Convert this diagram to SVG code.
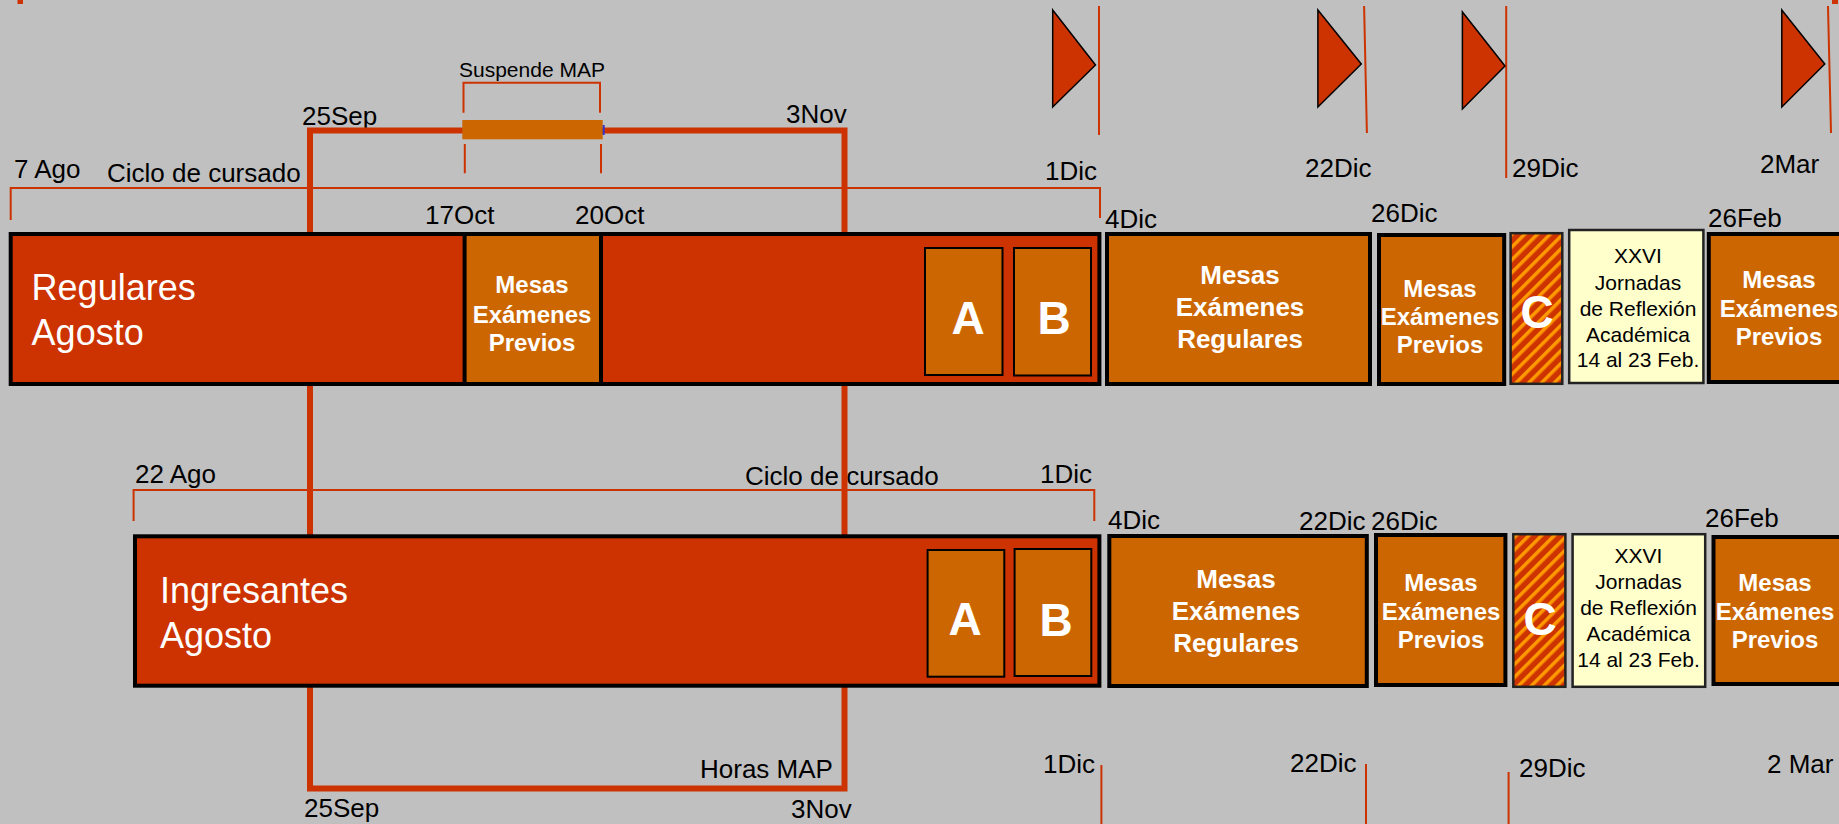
<svg xmlns="http://www.w3.org/2000/svg" width="1839" height="824" viewBox="0 0 1839 824">
<defs>
<pattern id="hatch" patternUnits="userSpaceOnUse" width="9" height="9" patternTransform="rotate(45)">
<rect width="9" height="9" fill="#CC3300"/>
<rect x="0" y="0" width="3.5" height="9" fill="#FF9900"/>
</pattern>
<style>
.lbl{font-family:"Liberation Sans",Arial,Helvetica,sans-serif;font-size:26px;fill:#000}
.sm{font-size:21px}
.big{font-family:"Liberation Sans",Arial,Helvetica,sans-serif;font-size:36px;fill:#fff}
.mp{font-family:"Liberation Sans",Arial,Helvetica,sans-serif;font-size:24px;font-weight:bold;fill:#fff;text-anchor:middle}
.mr{font-family:"Liberation Sans",Arial,Helvetica,sans-serif;font-size:26px;font-weight:bold;fill:#fff;text-anchor:middle}
.ab{font-family:"Liberation Sans",Arial,Helvetica,sans-serif;font-size:46px;font-weight:bold;fill:#fff;text-anchor:middle}
.jr{font-family:"Liberation Sans",Arial,Helvetica,sans-serif;font-size:21px;fill:#000;text-anchor:middle}
.thin{stroke:#CC3300;stroke-width:2;fill:none}
.map{stroke:#CC3300;stroke-width:6;fill:none}
.tri{fill:#CC3300;stroke:#000;stroke-width:1.5}
.main{fill:#CC3300;stroke:#000;stroke-width:4}
.ex{fill:#CC6600;stroke:#000;stroke-width:4}
.sub{fill:#CC6600;stroke:#000;stroke-width:2}
.hb{fill:url(#hatch);stroke:#222;stroke-width:2.5}
.jb{fill:#FFFFCC;stroke:#222;stroke-width:2.5}
</style>
</defs>
<rect width="1839" height="824" fill="#C0C0C0"/>

<g id="labels">
<text class="lbl" x="14" y="178">7 Ago</text>
<text class="lbl" x="107" y="182">Ciclo de cursado</text>
<text class="lbl" x="302" y="125">25Sep</text>
<text class="lbl sm" x="459" y="77">Suspende MAP</text>
<text class="lbl" x="786" y="123">3Nov</text>
<text class="lbl" x="425" y="224">17Oct</text>
<text class="lbl" x="575" y="224">20Oct</text>
<text class="lbl" x="1045" y="180">1Dic</text>
<text class="lbl" x="1105" y="228">4Dic</text>
<text class="lbl" x="1305" y="177">22Dic</text>
<text class="lbl" x="1512" y="177">29Dic</text>
<text class="lbl" x="1760" y="173">2Mar</text>
<text class="lbl" x="1371" y="222">26Dic</text>
<text class="lbl" x="1708" y="227">26Feb</text>
<text class="lbl" x="135" y="483">22 Ago</text>
<text class="lbl" x="745" y="485">Ciclo de cursado</text>
<text class="lbl" x="1040" y="483">1Dic</text>
<text class="lbl" x="1108" y="529">4Dic</text>
<text class="lbl" x="1299" y="530">22Dic</text>
<text class="lbl" x="1371" y="530">26Dic</text>
<text class="lbl" x="1705" y="527">26Feb</text>
<text class="lbl" x="700" y="778">Horas MAP</text>
<text class="lbl" x="1043" y="773">1Dic</text>
<text class="lbl" x="1290" y="772">22Dic</text>
<text class="lbl" x="1519" y="777">29Dic</text>
<text class="lbl" x="1767" y="773">2 Mar</text>
<text class="lbl" x="304" y="817">25Sep</text>
<text class="lbl" x="791" y="818">3Nov</text>
</g>

<g id="connectors">
<path class="map" d="M310,788.5 V130.5 H844.5 V788.5 Z"/>
<path class="thin" d="M10.7,220 V188 H1100 V218"/>
<path class="thin" d="M133.6,521 V490 H1094.3 V521"/>
<path class="thin" d="M463.5,112.7 V82.7 H600 V112.7"/>
<path class="thin" d="M464.8,144 V173.3 M601,144 V173.3"/>
<path class="thin" d="M1099,6 V135 M1364.1,6 L1366.9,133 M1506.2,6 V178 M1828,6 L1831,133"/>
<path class="thin" d="M1101.4,765 V824 M1366,764 V824 M1508.6,772 V824"/>
<rect x="17.5" y="0" width="5.5" height="4" fill="#CC3300"/>
<rect x="1832" y="0" width="6" height="4" fill="#CC3300"/>
</g>

<g id="suspende-map">
<rect x="462.3" y="120" width="140.4" height="19.3" fill="#CC6600"/>
<line x1="603.7" y1="125" x2="603.7" y2="135" stroke="#3333CC" stroke-width="2"/>
</g>

<g id="markers">
<polygon class="tri" points="1052.7,10 1095.5,65 1052.7,107"/>
<polygon class="tri" points="1317.9,10 1361.3,64 1317.9,107"/>
<polygon class="tri" points="1462.4,12 1505,66 1462.4,109"/>
<polygon class="tri" points="1781.8,10 1824.8,64 1781.8,107"/>
</g>

<g id="regulares">
<rect class="main" x="10.7" y="234" width="1088.7" height="150"/>
<text class="big" x="31.6" y="300">Regulares</text>
<text class="big" x="31.6" y="345">Agosto</text>
</g>
<g id="reg-previos-oct">
<rect class="ex" x="464.6" y="234" width="136.4" height="150"/>
<text class="mp" x="532" y="293">Mesas</text>
<text class="mp" x="532" y="323">Exámenes</text>
<text class="mp" x="532" y="351">Previos</text>
</g>
<g id="reg-a">
<rect class="sub" x="925" y="248" width="77.5" height="127"/>
<text class="ab" x="968" y="334">A</text>
</g>
<g id="reg-b">
<rect class="sub" x="1014" y="248" width="77" height="127.5"/>
<text class="ab" x="1054" y="334">B</text>
</g>
<g id="reg-mesas-regulares">
<rect class="ex" x="1107" y="234" width="263" height="150"/>
<text class="mr" x="1240" y="284">Mesas</text>
<text class="mr" x="1240" y="316">Exámenes</text>
<text class="mr" x="1240" y="348">Regulares</text>
</g>
<g id="reg-previos-dic">
<rect class="ex" x="1379" y="235" width="125.2" height="149"/>
<text class="mp" x="1440" y="297">Mesas</text>
<text class="mp" x="1440" y="325">Exámenes</text>
<text class="mp" x="1440" y="353">Previos</text>
</g>
<g id="reg-c">
<rect class="hb" x="1510.6" y="233.2" width="51.7" height="150.6"/>
<text class="ab" x="1537" y="328">C</text>
</g>
<g id="reg-jornadas">
<rect class="jb" x="1569.2" y="230" width="134.2" height="153"/>
<text class="jr" x="1638" y="263">XXVI</text>
<text class="jr" x="1638" y="290">Jornadas</text>
<text class="jr" x="1638" y="316">de Reflexión</text>
<text class="jr" x="1638" y="342">Académica</text>
<text class="jr" x="1638" y="367">14 al 23 Feb.</text>
</g>
<g id="reg-previos-feb">
<rect class="ex" x="1708.8" y="234" width="200" height="148"/>
<text class="mp" x="1779" y="288">Mesas</text>
<text class="mp" x="1779" y="317">Exámenes</text>
<text class="mp" x="1779" y="345">Previos</text>
</g>

<g id="ingresantes">
<rect class="main" x="135" y="536.3" width="964.4" height="149.4"/>
<text class="big" x="160" y="603">Ingresantes</text>
<text class="big" x="160" y="648">Agosto</text>
</g>
<g id="ing-a">
<rect class="sub" x="927.6" y="550" width="76.7" height="126.7"/>
<text class="ab" x="965" y="635">A</text>
</g>
<g id="ing-b">
<rect class="sub" x="1014.6" y="549" width="76.7" height="127"/>
<text class="ab" x="1056" y="636">B</text>
</g>
<g id="ing-mesas-regulares">
<rect class="ex" x="1109.3" y="536" width="257.5" height="150"/>
<text class="mr" x="1236" y="588">Mesas</text>
<text class="mr" x="1236" y="620">Exámenes</text>
<text class="mr" x="1236" y="652">Regulares</text>
</g>
<g id="ing-previos-dic">
<rect class="ex" x="1376" y="535" width="129.4" height="150"/>
<text class="mp" x="1441" y="591">Mesas</text>
<text class="mp" x="1441" y="620">Exámenes</text>
<text class="mp" x="1441" y="648">Previos</text>
</g>
<g id="ing-c">
<rect class="hb" x="1513.3" y="534.2" width="52.1" height="152.6"/>
<text class="ab" x="1540" y="635">C</text>
</g>
<g id="ing-jornadas">
<rect class="jb" x="1572.6" y="534.2" width="132.6" height="152.6"/>
<text class="jr" x="1638.5" y="563">XXVI</text>
<text class="jr" x="1638.5" y="589">Jornadas</text>
<text class="jr" x="1638.5" y="615">de Reflexión</text>
<text class="jr" x="1638.5" y="641">Académica</text>
<text class="jr" x="1638.5" y="667">14 al 23 Feb.</text>
</g>
<g id="ing-previos-feb">
<rect class="ex" x="1713.5" y="537" width="200" height="147"/>
<text class="mp" x="1775" y="591">Mesas</text>
<text class="mp" x="1775" y="620">Exámenes</text>
<text class="mp" x="1775" y="648">Previos</text>
</g>
</svg>
